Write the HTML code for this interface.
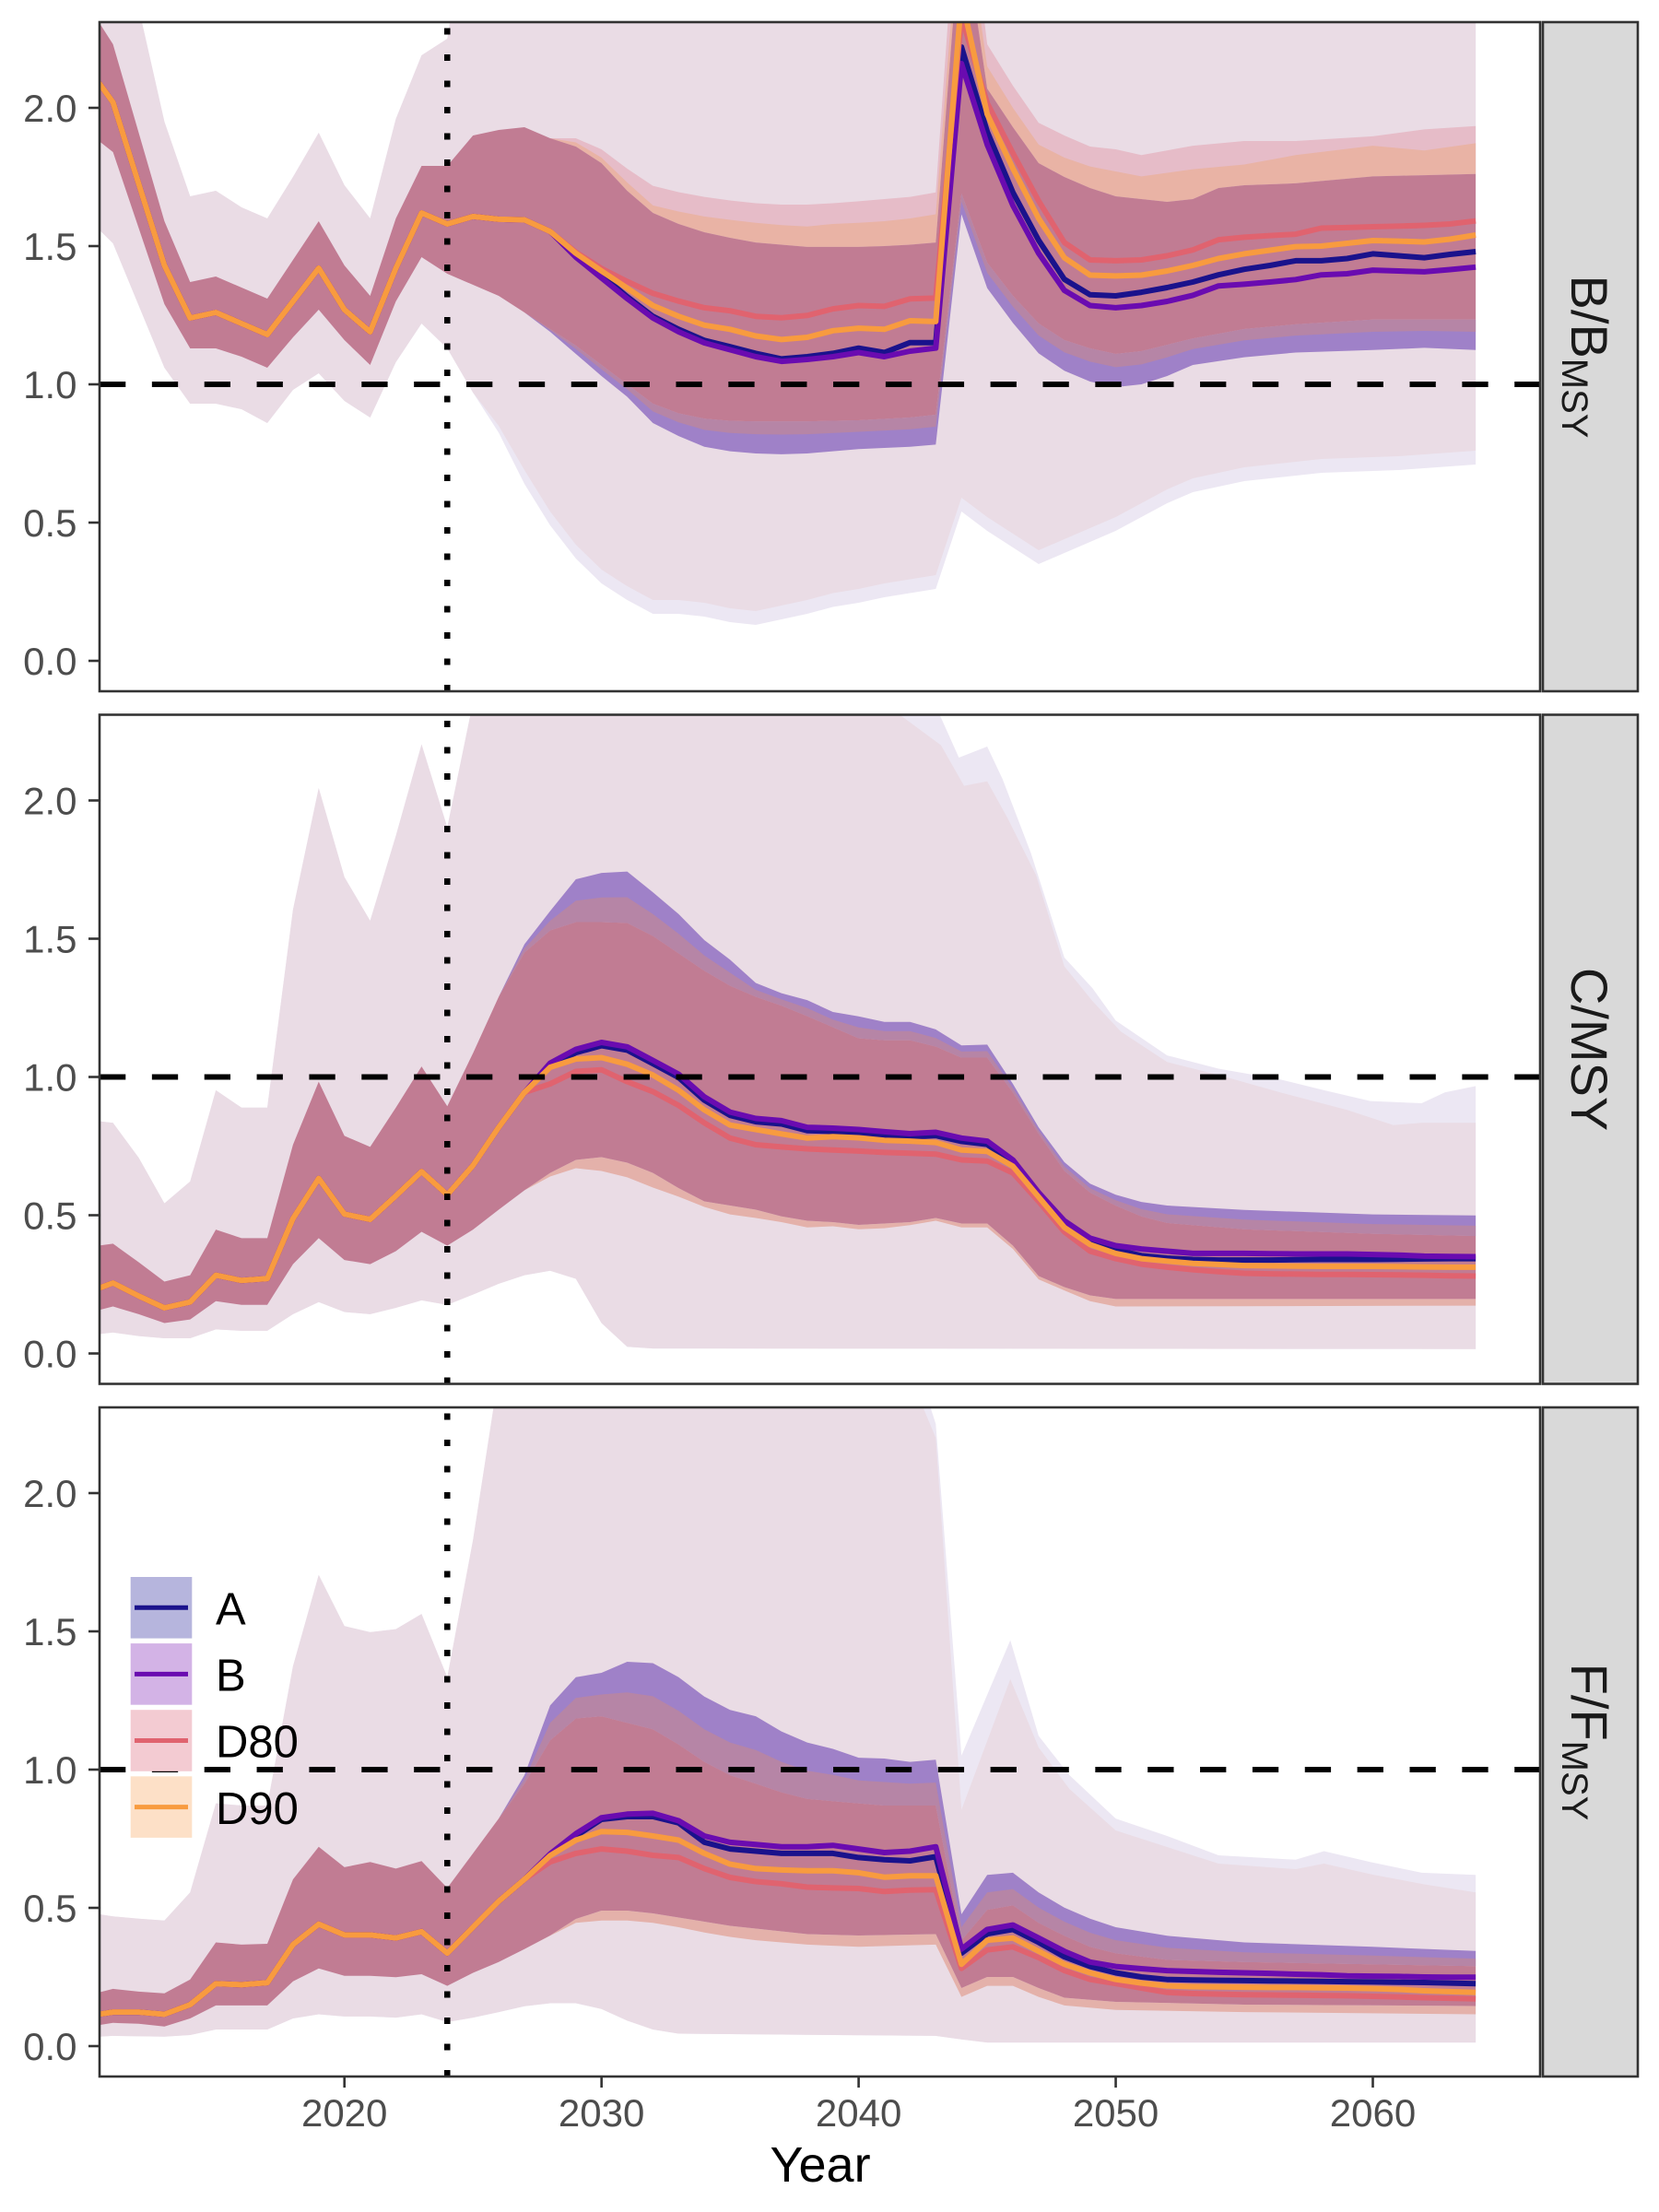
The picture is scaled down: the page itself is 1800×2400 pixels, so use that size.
<!DOCTYPE html>
<html>
<head>
<meta charset="utf-8">
<style>
html,body{margin:0;padding:0;background:#fff;}
svg{display:block;}
text{font-family:"Liberation Sans",Arial,Helvetica,sans-serif;}
</style>
</head>
<body>
<svg id="c" xmlns="http://www.w3.org/2000/svg" width="1800" height="2400" viewBox="0 0 1800 2400">
<rect x="0" y="0" width="1800" height="2400" fill="#ffffff"/>
<defs>
<clipPath id="cp0"><rect x="108" y="24" width="1563" height="726"/></clipPath>
<clipPath id="cp1"><rect x="108" y="775.5" width="1563" height="726"/></clipPath>
<clipPath id="cp2"><rect x="108" y="1527" width="1563" height="726"/></clipPath>
</defs>
</svg>
<script>
(function(){
const NS='http://www.w3.org/2000/svg';
const svg=document.getElementById('c');
const X=y=>373.7+(y-2020)*27.895;
const TOPS=[24,775.5,1527];
const Y=(v,p)=>TOPS[p]+(2.31-v)*300;
function el(tag,attrs,parent,txt){const e=document.createElementNS(NS,tag);for(const k in attrs)e.setAttribute(k,attrs[k]);if(txt!==undefined)e.textContent=txt;(parent||svg).appendChild(e);return e;}
function interp(e,y){if(y<=e[0][0])return e[0][1];for(let i=1;i<e.length;i++){if(y<=e[i][0]){const a=e[i-1],b=e[i];return a[1]+(b[1]-a[1])*(y-a[0])/(b[0]-a[0]);}}return e[e.length-1][1];}
function slice(e,a,b){const r=[[a,interp(e,a)]];e.forEach(p=>{if(p[0]>a&&p[0]<b)r.push(p);});r.push([b,interp(e,b)]);return r;}
function blend(e1,e2,t){const a=Math.max(e1[0][0],e2[0][0]),b=Math.min(e1[e1.length-1][0],e2[e2.length-1][0]);const ys=[...new Set(e1.concat(e2).map(p=>p[0]).filter(y=>y>=a&&y<=b))].sort((m,n)=>m-n);return ys.map(y=>[y,interp(e1,y)*(1-t)+interp(e2,y)*t]);}
function pstr(arr,p){return arr.map(q=>X(q[0]).toFixed(1)+','+Y(q[1],p).toFixed(1)).join(' ');}
function band(g,up,lo,p,color){const a=Math.max(up[0][0],lo[0][0]),b=Math.min(up[up.length-1][0],lo[lo.length-1][0]);const U=slice(up,a,b),L=slice(lo,a,b).reverse();el('polygon',{points:pstr(U.concat(L),p),fill:color},g);}
function line(g,pts,p,color){el('polyline',{points:pstr(pts,p),fill:'none',stroke:color,'stroke-width':6,'stroke-linejoin':'round','stroke-linecap':'butt'},g);}
function seq(y0,vals){return vals.map((v,i)=>[y0+i,v]);}

const C={pink:'#eadce5',lav:'#ece7f3',P:'#e6bcc8',O:'#e9b3a5',purp:'#9f81c8',pm:'#b685a6',core:'#c17c93',fr:'#e4b1aa'};
const LC={A:'#1a128c',B:'#6a0bb0',D80:'#e0636f',D90:'#f89b3f'};

/* ---------- Panel 1: B/BMSY ---------- */
(function(){
const p=0;
const g=el('g',{'clip-path':'url(#cp0)'});
const outerU=[[2010.45,2.6],[2012.1,2.32],[2013,1.95],[2014,1.68],[2015,1.70],[2016,1.64],[2017,1.60],[2018,1.75],[2019,1.91],[2020,1.72],[2021,1.60],[2022,1.96],[2023,2.19],[2024,2.25],[2024.6,2.6],[2064,2.6]];
const outerL=[[2010.45,1.56],[2011,1.51],[2013,1.06],[2014,0.93],[2015,0.93],[2016,0.91],[2017,0.86],[2018,0.98],[2019,1.04],[2020,0.94],[2021,0.88],[2022,1.08],[2023,1.22],[2024,1.13],[2025,0.97],[2026,0.85],[2027,0.69],[2028,0.54],[2029,0.42],[2030,0.33],[2031,0.27],[2032,0.22],[2033,0.22],[2034,0.21],[2035,0.19],[2036,0.18],[2037,0.20],[2038,0.22],[2039,0.245],[2040,0.26],[2041,0.28],[2042,0.295],[2043,0.31],[2044,0.59],[2045,0.52],[2046,0.46],[2047,0.40],[2048,0.44],[2049,0.48],[2050,0.52],[2051,0.57],[2052,0.62],[2053,0.66],[2055,0.70],[2058,0.73],[2061,0.74],[2064,0.76]];
const lavL=outerL.map(q=>{const y=q[0];const off=y<2025?0:(y<2027?-0.05*(y-2025)/2:-0.05);return [y,q[1]+off];});
const coreU=[[2010.45,2.31],[2011,2.23],[2013,1.59],[2014,1.37],[2015,1.39],[2016,1.35],[2017,1.31],[2018,1.45],[2019,1.59],[2020,1.43],[2021,1.32],[2022,1.60],[2023,1.79],[2024,1.79],[2025,1.90],[2026,1.92],[2027,1.93],[2028,1.89],[2029,1.86],[2030,1.80],[2031,1.70],[2032,1.62],[2033,1.58],[2034,1.55],[2035,1.53],[2036,1.513],[2037,1.505],[2038,1.497],[2039,1.497],[2040,1.497],[2041,1.50],[2042,1.505],[2043,1.513],[2044,2.7],[2045,2.07],[2046,1.93],[2047,1.80],[2048,1.75],[2049,1.71],[2050,1.68],[2051,1.67],[2052,1.66],[2053,1.67],[2054,1.71],[2055,1.72],[2057,1.727],[2060,1.752],[2064,1.761]];
const coreL=[[2010.45,1.88],[2011,1.84],[2013,1.29],[2014,1.13],[2015,1.13],[2016,1.10],[2017,1.06],[2018,1.17],[2019,1.27],[2020,1.16],[2021,1.07],[2022,1.30],[2023,1.46],[2024,1.40],[2025,1.36],[2026,1.32],[2027,1.26],[2028,1.20],[2029,1.14],[2030,1.07],[2031,1.0],[2032,0.93],[2033,0.895],[2034,0.876],[2035,0.868],[2036,0.866],[2038,0.866],[2040,0.87],[2042,0.88],[2043,0.89],[2044,1.69],[2045,1.44],[2046,1.32],[2047,1.22],[2048,1.16],[2049,1.13],[2050,1.11],[2051,1.12],[2053,1.166],[2055,1.2],[2057,1.217],[2060,1.234],[2064,1.234]];
const purpL=[[2027,1.26],[2028,1.19],[2029,1.11],[2030,1.03],[2031,0.955],[2032,0.86],[2033,0.813],[2034,0.774],[2035,0.758],[2036,0.75],[2037,0.747],[2038,0.75],[2040,0.766],[2042,0.774],[2043,0.782],[2044,1.615],[2045,1.348],[2046,1.222],[2047,1.112],[2048,1.049],[2049,1.01],[2050,0.99],[2051,1.0],[2052,1.03],[2053,1.07],[2055,1.098],[2057,1.115],[2060,1.124],[2062,1.132],[2064,1.124]];
const Oe=[[2028,1.89],[2029,1.875],[2030,1.82],[2031,1.73],[2032,1.647],[2033,1.625],[2034,1.607],[2035,1.595],[2036,1.584],[2037,1.576],[2038,1.571],[2039,1.58],[2040,1.584],[2041,1.59],[2042,1.60],[2043,1.615],[2044,2.8],[2045,2.15],[2046,2.0],[2047,1.867],[2048,1.82],[2049,1.788],[2050,1.77],[2051,1.752],[2053,1.778],[2055,1.795],[2057,1.829],[2060,1.863],[2062,1.846],[2064,1.872]];
const Pe=[[2028,1.89],[2029,1.89],[2030,1.85],[2031,1.78],[2032,1.718],[2033,1.695],[2034,1.678],[2035,1.665],[2036,1.655],[2037,1.65],[2038,1.65],[2039,1.655],[2040,1.662],[2041,1.67],[2042,1.678],[2043,1.694],[2044,3.0],[2045,2.23],[2046,2.08],[2047,1.946],[2048,1.90],[2049,1.86],[2050,1.85],[2051,1.829],[2053,1.863],[2055,1.88],[2057,1.88],[2060,1.897],[2062,1.922],[2064,1.934]];
band(g,outerU,lavL,p,C.lav);
band(g,outerU,outerL,p,C.pink);
band(g,Pe,coreU,p,C.P);
band(g,Oe,coreU,p,C.O);
band(g,coreL,purpL,p,C.purp);
band(g,coreL,blend(coreL,purpL,0.4),p,C.pm);
band(g,coreU,coreL,p,C.core);
const common=[[2010.45,2.09]].concat(seq(2011,[2.02,1.725,1.43,1.24,1.26,1.22,1.18,1.30,1.42,1.27,1.19,1.42,1.62,1.58,1.607,1.597,1.595,1.553]));
const A=common.concat(seq(2029,[1.466,1.395,1.317,1.246,1.199,1.159,1.136,1.112,1.092,1.10,1.112,1.131,1.115,1.151,1.151,2.22,1.914,1.694,1.521,1.38,1.324,1.32,1.333,1.35,1.37,1.396,1.416,1.43,1.447,1.447,1.455,1.472,1.465,1.458,1.47,1.48]));
const B=common.concat(seq(2029,[1.46,1.385,1.31,1.24,1.19,1.15,1.125,1.10,1.083,1.09,1.10,1.115,1.10,1.12,1.131,2.16,1.867,1.647,1.474,1.34,1.285,1.277,1.285,1.30,1.322,1.356,1.362,1.37,1.379,1.396,1.40,1.413,1.41,1.407,1.415,1.424]));
const D90=common.concat(seq(2029,[1.474,1.41,1.348,1.285,1.246,1.214,1.199,1.175,1.162,1.17,1.194,1.203,1.199,1.23,1.227,2.40,1.977,1.781,1.60,1.458,1.395,1.392,1.395,1.41,1.43,1.455,1.472,1.485,1.498,1.50,1.51,1.52,1.518,1.515,1.525,1.54]));
const D80=common.concat(seq(2029,[1.478,1.419,1.372,1.329,1.301,1.277,1.266,1.246,1.241,1.249,1.273,1.285,1.282,1.309,1.312,2.33,2.017,1.836,1.663,1.513,1.45,1.447,1.45,1.465,1.486,1.523,1.532,1.538,1.543,1.565,1.567,1.57,1.572,1.575,1.58,1.591]));
line(g,A,p,LC.A);line(g,B,p,LC.B);line(g,D80,p,LC.D80);line(g,D90,p,LC.D90);
})();

/* ---------- Panel 2: C/MSY ---------- */
(function(){
const p=1;
const g=el('g',{'clip-path':'url(#cp1)'});
const outerU=[[2010.45,0.84],[2011,0.834],[2012,0.708],[2013,0.543],[2014,0.622],[2015,0.952],[2016,0.889],[2017,0.889],[2018,1.605],[2019,2.045],[2020,1.723],[2021,1.565],[2022,1.872],[2023,2.203],[2024,1.903],[2024.9,2.31],[2025.5,2.6],[2041.2,2.6],[2041.6,2.31],[2043.2,2.2],[2044.1,2.053],[2045,2.069],[2045.8,1.935],[2046.9,1.73],[2048,1.40],[2049.1,1.274],[2050.2,1.164],[2052,1.054],[2054,1.007],[2056.4,0.944],[2059,0.881],[2060.8,0.826],[2061.9,0.834],[2064,0.834]];
const lavU=outerU.filter(q=>q[0]<=2041.2).concat([[2041.4,2.6],[2043.2,2.30],[2043.9,2.155],[2045,2.195],[2045.6,2.077],[2046.7,1.81],[2048,1.432],[2049.1,1.321],[2050,1.204],[2052,1.078],[2054,1.03],[2056.4,0.991],[2058.1,0.952],[2059.9,0.913],[2061.9,0.905],[2062.8,0.944],[2064,0.967]]);
const outerL=[[2010.45,0.07],[2011,0.076],[2012,0.063],[2013,0.055],[2014,0.055],[2015,0.087],[2016,0.082],[2017,0.082],[2018,0.142],[2019,0.186],[2020,0.15],[2021,0.142],[2022,0.165],[2023,0.192],[2024,0.176],[2025,0.213],[2026,0.252],[2027,0.283],[2028,0.299],[2029,0.27],[2030,0.11],[2031,0.024],[2032,0.018],[2064,0.016]];
const coreU=[[2010.45,0.39],[2011,0.397],[2012,0.33],[2013,0.26],[2014,0.283],[2015,0.448],[2016,0.417],[2017,0.417],[2018,0.755],[2019,0.983],[2020,0.787],[2021,0.747],[2022,0.889],[2023,1.038],[2024,0.894],[2025,1.086],[2026,1.29],[2027,1.45],[2028,1.53],[2029,1.56],[2030,1.56],[2031,1.557],[2032,1.51],[2033,1.447],[2034,1.384],[2035,1.33],[2036,1.29],[2037,1.258],[2038,1.22],[2039,1.18],[2040,1.14],[2041,1.133],[2042,1.133],[2043,1.11],[2044,1.07],[2045,1.07],[2046,0.944],[2047,0.795],[2048,0.661],[2049,0.582],[2050,0.535],[2051,0.496],[2052,0.472],[2055,0.449],[2060,0.433],[2064,0.425]];
const ABU=[[2026,1.29],[2027,1.48],[2028,1.60],[2029,1.715],[2030,1.738],[2031,1.743],[2032,1.668],[2033,1.589],[2034,1.495],[2035,1.424],[2036,1.34],[2037,1.303],[2038,1.278],[2039,1.235],[2040,1.219],[2041,1.199],[2042,1.199],[2043,1.172],[2044,1.114],[2045,1.117],[2046,0.975],[2047,0.818],[2048,0.692],[2049,0.614],[2050,0.574],[2051,0.548],[2052,0.535],[2055,0.519],[2060,0.503],[2064,0.499]];
const coreL=[[2010.45,0.157],[2011,0.17],[2012,0.142],[2013,0.11],[2014,0.123],[2015,0.189],[2016,0.176],[2017,0.176],[2018,0.323],[2019,0.417],[2020,0.338],[2021,0.323],[2022,0.37],[2023,0.44],[2024,0.39],[2025,0.448],[2026,0.52],[2027,0.59],[2028,0.653],[2029,0.70],[2030,0.71],[2031,0.69],[2032,0.653],[2033,0.598],[2034,0.55],[2035,0.535],[2036,0.52],[2037,0.496],[2038,0.48],[2039,0.475],[2040,0.465],[2042,0.475],[2043,0.49],[2044,0.47],[2045,0.47],[2046,0.39],[2047,0.28],[2048,0.24],[2049,0.21],[2050,0.197],[2064,0.197]];
const frL=[[2027,0.59],[2028,0.64],[2029,0.67],[2030,0.66],[2031,0.637],[2032,0.60],[2033,0.567],[2034,0.53],[2035,0.503],[2036,0.49],[2037,0.475],[2038,0.456],[2039,0.46],[2040,0.449],[2041,0.453],[2042,0.464],[2043,0.48],[2044,0.456],[2045,0.456],[2046,0.378],[2047,0.268],[2048,0.228],[2049,0.189],[2050,0.17],[2064,0.173]];
band(g,lavU,outerL,p,C.lav);
band(g,outerU,outerL,p,C.pink);
band(g,coreL,frL,p,C.fr);
band(g,ABU,coreU,p,C.purp);
band(g,blend(ABU,coreU,0.5),coreU,p,C.pm);
band(g,coreU,coreL,p,C.core);
const common=[[2010.45,0.236]].concat(seq(2011,[0.255,0.208,0.165,0.186,0.283,0.264,0.271,0.488,0.633,0.504,0.485,0.57,0.658,0.574,0.68,0.818,0.944]));
const Bv=[1.05,1.10,1.125,1.109,1.06,1.01,0.928,0.873,0.85,0.842,0.818,0.815,0.81,0.802,0.795,0.80,0.779,0.768,0.70,0.582,0.48,0.417,0.39,0.378,0.37,0.362,0.362,0.362,0.361,0.36,0.36,0.36,0.358,0.356,0.352,0.351,0.35];
const B=common.concat(seq(2028,Bv));
const Av=Bv.slice(0,19).map(v=>v-0.012).concat([0.575,0.47,0.405,0.375,0.354,0.345,0.34,0.338,0.338,0.338,0.339,0.34,0.34,0.34,0.341,0.342,0.343,0.343]);
const A=common.concat(seq(2028,Av));
const D90=common.concat(seq(2028,[1.035,1.065,1.07,1.046,1.007,0.952,0.881,0.826,0.81,0.794,0.779,0.784,0.78,0.771,0.768,0.763,0.736,0.731,0.677,0.566,0.456,0.394,0.362,0.343,0.334,0.326,0.322,0.318,0.317,0.316,0.315,0.315,0.315,0.314,0.313,0.312,0.312]));
const D80=common.concat(seq(2028,[0.975,1.02,1.026,0.983,0.947,0.897,0.834,0.779,0.755,0.747,0.74,0.736,0.732,0.727,0.724,0.721,0.70,0.696,0.653,0.55,0.44,0.37,0.343,0.323,0.312,0.303,0.296,0.29,0.288,0.287,0.286,0.286,0.285,0.284,0.283,0.281,0.28]));
line(g,A,p,LC.A);line(g,B,p,LC.B);line(g,D80,p,LC.D80);line(g,D90,p,LC.D90);
})();

/* ---------- Panel 3: F/FMSY ---------- */
(function(){
const p=2;
const g=el('g',{'clip-path':'url(#cp2)'});
const outerU=[[2010.45,0.477],[2011,0.469],[2012,0.461],[2013,0.454],[2014,0.556],[2015,0.878],[2016,0.87],[2017,0.87],[2018,1.374],[2019,1.704],[2020,1.519],[2021,1.497],[2022,1.508],[2023,1.563],[2024,1.334],[2025,1.83],[2025.8,2.31],[2026.5,2.6],[2041.2,2.6],[2043,2.2],[2044,0.855],[2045.9,1.327],[2047,1.08],[2048.2,0.93],[2050,0.78],[2052,0.72],[2054,0.66],[2057,0.64],[2058.1,0.66],[2060,0.62],[2062,0.585],[2064,0.556]];
const lavU=outerU.filter(q=>q[0]<=2041.2).concat([[2041.8,2.6],[2043,2.25],[2044,1.051],[2045.9,1.468],[2047,1.122],[2048.2,0.98],[2050,0.823],[2052,0.76],[2054,0.69],[2057,0.674],[2058.1,0.705],[2059.9,0.666],[2061.9,0.627],[2064,0.619]]);
const outerL=[[2010.45,0.034],[2011,0.037],[2013,0.034],[2014,0.04],[2015,0.06],[2017,0.06],[2018,0.10],[2019,0.115],[2020,0.107],[2021,0.107],[2022,0.103],[2023,0.115],[2024,0.087],[2025,0.103],[2026,0.123],[2027,0.144],[2028,0.155],[2029,0.155],[2030,0.134],[2031,0.092],[2032,0.06],[2033,0.045],[2043,0.037],[2044,0.024],[2045,0.013],[2064,0.013]];
const coreU=[[2010.45,0.194],[2011,0.207],[2012,0.197],[2013,0.191],[2014,0.241],[2015,0.375],[2016,0.367],[2017,0.37],[2018,0.603],[2019,0.721],[2020,0.647],[2021,0.666],[2022,0.642],[2023,0.669],[2024,0.572],[2025,0.697],[2026,0.823],[2027,0.949],[2028,1.106],[2029,1.185],[2030,1.193],[2031,1.169],[2032,1.146],[2033,1.091],[2034,1.028],[2035,0.98],[2036,0.949],[2037,0.918],[2038,0.894],[2039,0.886],[2040,0.878],[2041,0.87],[2043,0.87],[2044,0.383],[2045,0.493],[2046,0.509],[2047,0.446],[2048,0.399],[2049,0.359],[2050,0.336],[2052,0.312],[2055,0.304],[2060,0.296],[2064,0.289]];
const ABU=[[2026,0.823],[2027,0.98],[2028,1.232],[2029,1.334],[2030,1.35],[2031,1.39],[2032,1.385],[2033,1.334],[2034,1.264],[2035,1.216],[2036,1.193],[2037,1.138],[2038,1.098],[2039,1.075],[2040,1.043],[2041,1.04],[2042,1.028],[2043,1.036],[2044,0.477],[2045,0.619],[2046,0.627],[2047,0.556],[2048,0.501],[2049,0.461],[2050,0.43],[2052,0.399],[2055,0.375],[2060,0.359],[2064,0.344]];
const coreL=[[2010.45,0.076],[2011,0.084],[2012,0.081],[2013,0.071],[2014,0.10],[2015,0.147],[2016,0.147],[2017,0.147],[2018,0.234],[2019,0.281],[2020,0.254],[2021,0.254],[2022,0.249],[2023,0.26],[2024,0.218],[2025,0.265],[2026,0.304],[2027,0.351],[2028,0.40],[2029,0.46],[2030,0.49],[2031,0.49],[2032,0.48],[2033,0.465],[2034,0.45],[2035,0.435],[2036,0.425],[2037,0.415],[2038,0.405],[2040,0.40],[2043,0.405],[2044,0.21],[2045,0.25],[2046,0.25],[2047,0.21],[2048,0.175],[2050,0.16],[2055,0.15],[2064,0.145]];
const frL=[[2027,0.351],[2028,0.399],[2029,0.446],[2030,0.454],[2031,0.454],[2032,0.446],[2033,0.43],[2034,0.411],[2035,0.395],[2036,0.383],[2037,0.375],[2038,0.367],[2040,0.359],[2043,0.367],[2044,0.178],[2045,0.218],[2046,0.218],[2047,0.178],[2048,0.147],[2050,0.131],[2055,0.123],[2064,0.115]];
band(g,lavU,outerL,p,C.lav);
band(g,outerU,outerL,p,C.pink);
band(g,coreL,frL,p,C.fr);
band(g,ABU,coreU,p,C.purp);
band(g,blend(ABU,coreU,0.5),coreU,p,C.pm);
band(g,coreU,coreL,p,C.core);
const common=[[2010.45,0.115]].concat(seq(2011,[0.123,0.123,0.115,0.15,0.226,0.222,0.229,0.367,0.441,0.402,0.402,0.391,0.414,0.336,0.43,0.524,0.603]));
const B=common.concat(seq(2028,[0.695,0.768,0.826,0.839,0.842,0.815,0.76,0.737,0.729,0.721,0.721,0.726,0.713,0.70,0.705,0.721,0.351,0.422,0.438,0.391,0.343,0.304,0.288,0.28,0.273,0.27,0.267,0.265,0.263,0.26,0.258,0.254,0.253,0.252,0.25,0.249,0.249]));
const A=common.concat(seq(2028,[0.69,0.76,0.82,0.83,0.83,0.807,0.737,0.713,0.705,0.697,0.697,0.697,0.682,0.674,0.67,0.685,0.336,0.406,0.422,0.375,0.323,0.288,0.265,0.25,0.241,0.239,0.238,0.237,0.236,0.235,0.234,0.233,0.232,0.231,0.23,0.228,0.226]));
const D90=common.concat(seq(2028,[0.689,0.745,0.776,0.773,0.76,0.745,0.697,0.658,0.642,0.637,0.634,0.634,0.627,0.611,0.616,0.616,0.296,0.383,0.391,0.343,0.296,0.265,0.241,0.228,0.218,0.215,0.214,0.213,0.212,0.212,0.211,0.21,0.208,0.205,0.2,0.197,0.194]));
const D80=common.concat(seq(2028,[0.666,0.697,0.713,0.705,0.69,0.682,0.642,0.61,0.595,0.587,0.575,0.572,0.57,0.559,0.564,0.566,0.281,0.348,0.359,0.32,0.273,0.241,0.226,0.21,0.194,0.19,0.188,0.186,0.185,0.184,0.183,0.182,0.18,0.178,0.175,0.173,0.171]));
line(g,A,p,LC.A);line(g,B,p,LC.B);line(g,D80,p,LC.D80);line(g,D90,p,LC.D90);
})();

/* ---------- reference lines, frames, axes ---------- */
const vx=X(2024);
for(let p=0;p<3;p++){
  const top=TOPS[p],bot=top+726;
  el('line',{x1:108,x2:1671,y1:Y(1,p),y2:Y(1,p),stroke:'#000','stroke-width':6,'stroke-dasharray':'28.3 28.56'});
  el('line',{x1:vx,x2:vx,y1:bot,y2:top,stroke:'#000','stroke-width':6.5,'stroke-dasharray':'7 21.5'});
}

/* legend (panel 3) */
const keys=[['A','#b6b5dd',LC.A],['B','#d3b3e6',LC.B],['D80','#f3cbd2',LC.D80],['D90','#fde0c7',LC.D90]];
keys.forEach((k,i)=>{
  const y0=1711+i*72.1;
  el('rect',{x:141.7,y:y0,width:66.6,height:66.6,fill:k[1]});
  el('line',{x1:146,x2:204,y1:y0+33.3,y2:y0+33.3,stroke:k[2],'stroke-width':5});
  el('text',{x:234,y:y0+51.5,'font-size':49,fill:'#000'},null,k[0]);
});

for(let p=0;p<3;p++){
  const top=TOPS[p];
  el('rect',{x:108,y:top,width:1563,height:726,fill:'none',stroke:'#333333','stroke-width':2.6});
  el('rect',{x:1674,y:top,width:103,height:726,fill:'#d9d9d9',stroke:'#333333','stroke-width':2.6});
  [0,0.5,1,1.5,2].forEach(v=>{
    const y=Y(v,p);
    el('line',{x1:96,x2:108,y1:y,y2:y,stroke:'#333333','stroke-width':2.6});
    el('text',{x:83.5,y:y+15,'font-size':42,fill:'#4d4d4d','text-anchor':'end'},null,v.toFixed(1));
  });
}
[2020,2030,2040,2050,2060].forEach(yr=>{
  const x=X(yr);
  el('line',{x1:x,x2:x,y1:2253,y2:2265,stroke:'#333333','stroke-width':2.6});
  el('text',{x:x,y:2307,'font-size':42,fill:'#4d4d4d','text-anchor':'middle'},null,String(yr));
});
el('text',{x:890,y:2367,'font-size':54,fill:'#000','text-anchor':'middle'},null,'Year');

/* strip labels */
function strip(p,main,sub){
  const cy=TOPS[p]+363;
  const t=el('text',{transform:'translate(1725,'+cy+') rotate(90)',x:0,y:20,'font-size':56,fill:'#1a1a1a','text-anchor':'middle'});
  const t1=document.createElementNS(NS,'tspan');t1.textContent=main;t.appendChild(t1);
  if(sub){const t2=document.createElementNS(NS,'tspan');t2.setAttribute('font-size','40');t2.setAttribute('dy','10');t2.textContent=sub;t.appendChild(t2);}
}
strip(0,'B/B','MSY');
strip(1,'C/MSY','');
strip(2,'F/F','MSY');
})();
</script>
</body>
</html>
